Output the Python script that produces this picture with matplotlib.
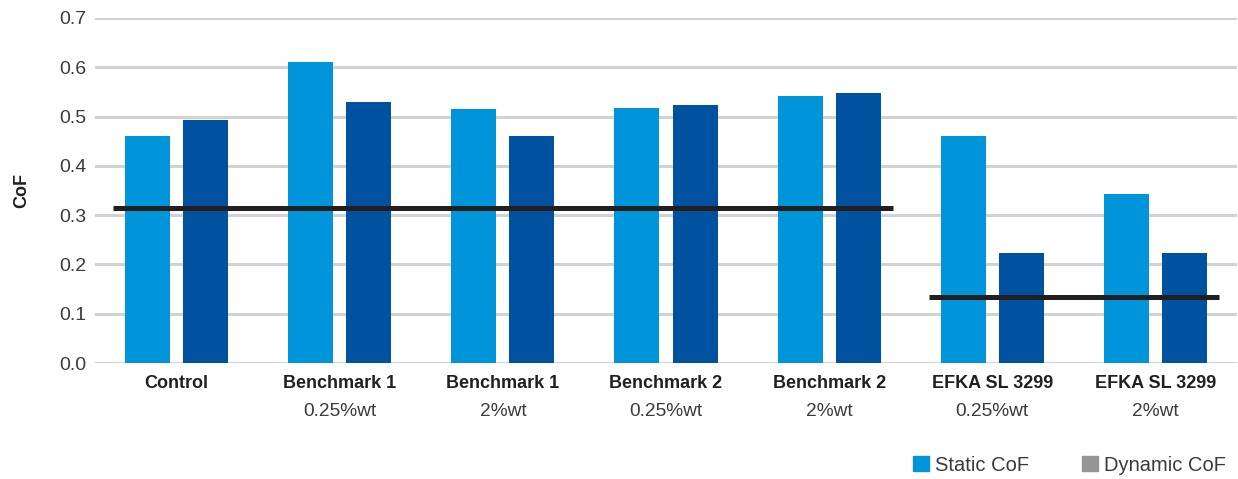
import numpy as np
import matplotlib
matplotlib.use("Agg")
from matplotlib import pyplot as plt
from matplotlib.patches import Patch
from matplotlib.transforms import blended_transform_factory

plt.rcParams['font.family'] = ['Liberation Sans', 'DejaVu Sans']

# data
names = ['Control', 'Benchmark 1', 'Benchmark 1', 'Benchmark 2',
         'Benchmark 2', 'EFKA SL 3299', 'EFKA SL 3299']
doses = ['', '0.25%wt', '2%wt', '0.25%wt', '2%wt', '0.25%wt', '2%wt']
static_cof = [0.460, 0.610, 0.515, 0.517, 0.542, 0.460, 0.343]
dynamic_cof = [0.493, 0.529, 0.460, 0.523, 0.548, 0.223, 0.223]
# reference lines: (value, first group, last group)
ref_levels = [0.314, 0.134]
ref_groups = [(0, 4), (5, 6)]

static_color = '#0095da'
dynamic_color = '#0052a0'
legend_dyn_color = '#939598'
text_color = '#231f20'

fig = plt.figure(figsize=(12.38, 4.79), dpi=100)
ax = fig.add_axes([95 / 1238, 1 - 363 / 479, 1142 / 1238, 345 / 479])

x = np.arange(len(names))
w = 0.276
off = 0.178
ax.bar(x - off, static_cof, w, color=static_color, zorder=2)
ax.bar(x + off, dynamic_cof, w, color=dynamic_color, zorder=2)

for lvl, (g0, g1) in zip(ref_levels, ref_groups):
    ax.plot([g0 - 0.39, g1 + 0.39], [lvl, lvl], color=text_color,
            lw=3.6, solid_capstyle='butt', zorder=3)

ax.set_xlim(-0.5, 6.5)
ax.set_ylim(0, 0.7)
ax.set_yticks(np.arange(0, 0.71, 0.1))
ax.set_yticklabels([f'{v:.1f}' for v in np.arange(0, 0.71, 0.1)])
ax.yaxis.grid(True, color='#d1d2d4', lw=2.2, zorder=0)
ax.set_axisbelow(True)
for s in ax.spines.values():
    s.set_visible(False)
ax.tick_params(axis='y', length=0, pad=6, labelsize=14, labelcolor='#3b3b3b')
ax.tick_params(axis='x', length=0, pad=9, labelsize=13, labelcolor=text_color)
ax.set_xticks(x)
ax.set_xticklabels(names, fontweight='bold')

tr = blended_transform_factory(ax.transData, ax.transAxes)
for xi, d in zip(x, doses):
    if d:
        ax.annotate(d, (xi, 0), xycoords=tr, xytext=(0, -28.5),
                    textcoords='offset points', ha='center', va='top',
                    fontsize=13.8, color='#3b3b3b')

ax.set_ylabel('CoF', fontsize=13, fontweight='bold', color=text_color,
              labelpad=21)

handles = [Patch(color=static_color, label='Static CoF'),
           Patch(color=legend_dyn_color, label='Dynamic CoF')]
fig.legend(handles=handles, loc='lower right',
           bbox_to_anchor=(1236 / 1238, -0.012), ncol=2, frameon=False,
           fontsize=14.5, handlelength=0.8, handleheight=0.8,
           handletextpad=0.3, columnspacing=2.6, borderpad=0,
           labelcolor='#3b3b3b')

fig.savefig('out.png', dpi=100)
